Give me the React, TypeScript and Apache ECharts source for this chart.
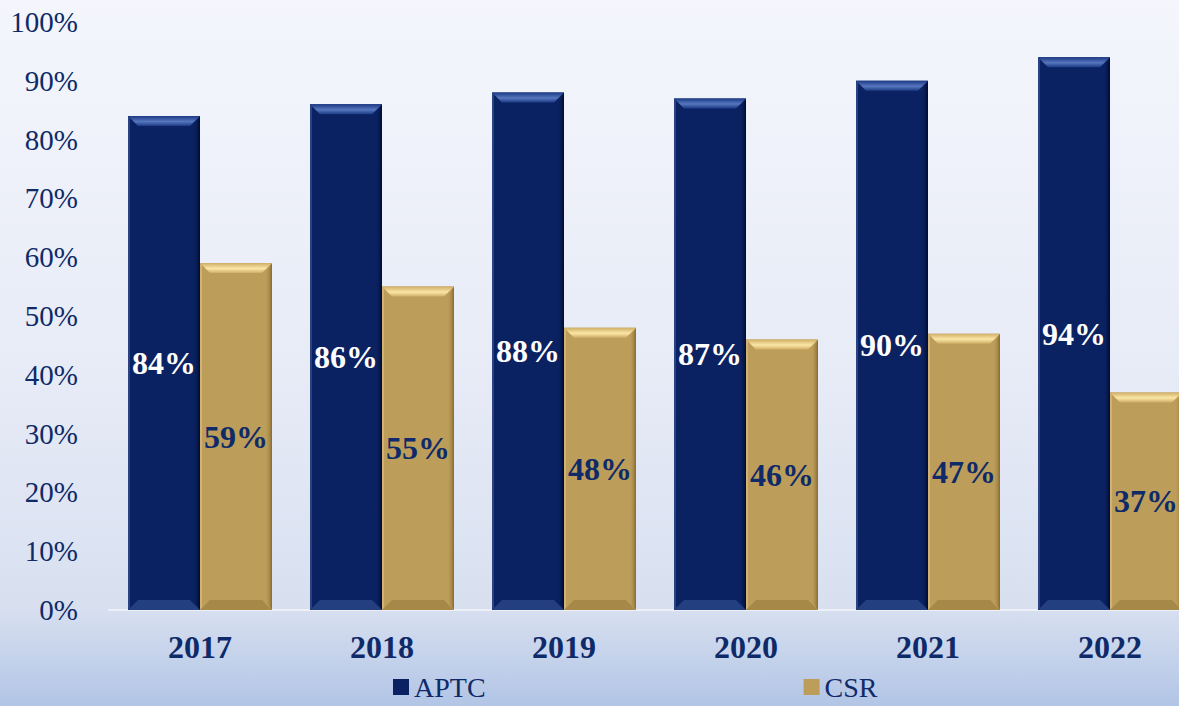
import React, { useEffect, useRef } from "react";
import * as echarts from "echarts";

const categories = ["2017", "2018", "2019", "2020", "2021", "2022"];
const aptcValues = [84, 86, 88, 87, 90, 94];
const csrValues = [59, 55, 48, 46, 47, 37];
const seriesNames = ["APTC", "CSR"];

const NAVY = "#0b2262";
const GOLD = "#bd9d5a";
const TEXT = "#0f2a68";
const FONT = "'Liberation Serif', 'Times New Roman', serif";
const BAR_W = 72;

function bevelRenderer(offset: number, kind: "navy" | "gold") {
  const c =
    kind === "navy"
      ? { topA: "#5676bd", topB: "#1c3a86", bot: "#233f80", right: "#000a2c", left: "#2a4282" }
      : { topA: "#fbe6a6", topB: "#cfae66", bot: "#a68849", right: "#86692f", left: "#cfb274" };
  return (params: any, api: any) => {
    const i = api.value(0);
    const v = api.value(1);
    const top = api.coord([i, v]);
    const base = api.coord([i, 0]);
    const cx = top[0] + offset;
    const x0 = cx - BAR_W / 2;
    const x1 = cx + BAR_W / 2;
    const yT = top[1];
    const yB = base[1];
    const b = 10;
    return {
      type: "group",
      children: [
        {
          type: "polygon",
          shape: { points: [[x1, yT], [x1, yB], [x1 - 7, yB - b], [x1 - 7, yT + b]] },
          style: {
            fill: new echarts.graphic.LinearGradient(1, 0, 0, 0, [
              { offset: 0, color: c.right },
              { offset: 1, color: kind === "navy" ? "rgba(11,34,98,0)" : "rgba(189,157,90,0)" },
            ]),
          },
        },
        {
          type: "polygon",
          shape: { points: [[x0, yT], [x0, yB], [x0 + 2, yB - 2], [x0 + 2, yT + 2]] },
          style: { fill: c.left },
        },
        {
          type: "polygon",
          shape: { points: [[x0, yT], [x1, yT], [x1 - b, yT + b], [x0 + b, yT + b]] },
          style: {
            fill: new echarts.graphic.LinearGradient(0, 0, 0, 1, [
              { offset: 0, color: c.topB },
              { offset: 0.55, color: c.topA },
              { offset: 1, color: c.topB },
            ]),
          },
        },
        {
          type: "polygon",
          shape: { points: [[x0, yB], [x1, yB], [x1 - b, yB - b], [x0 + b, yB - b]] },
          style: { fill: c.bot },
        },
      ],
    };
  };
}

export default function App() {
  const ref = useRef<HTMLDivElement>(null);
  useEffect(() => {
    if (!ref.current) return;
    const chart = echarts.init(ref.current, undefined, { renderer: "svg" });
    chart.setOption({
      animation: false,
      backgroundColor: new echarts.graphic.LinearGradient(0, 0, 0, 1, [
        { offset: 0, color: "#f4f6fc" },
        { offset: 0.5, color: "#e8ecf7" },
        { offset: 0.86, color: "#d8e0f0" },
        { offset: 1, color: "#b2c5e6" },
      ]),
      textStyle: { fontFamily: FONT },
      grid: { left: 109, top: 22, bottom: 96, right: 0, containLabel: false },
      legend: {
        data: [
          { name: seriesNames[0], itemStyle: { color: NAVY } },
          { name: seriesNames[1], itemStyle: { color: GOLD } },
        ],
        left: 388,
        top: 667,
        icon: "rect",
        itemWidth: 16,
        itemHeight: 16,
        itemGap: 318,
        textStyle: { fontFamily: FONT, fontSize: 28, color: TEXT, lineHeight: 30 },
      },
      xAxis: {
        type: "category",
        data: categories,
        axisTick: { show: false },
        axisLine: { show: true, lineStyle: { color: "#eef0f7", width: 2 } },
        axisLabel: { fontFamily: FONT, fontSize: 32, fontWeight: "bold", color: TEXT, margin: 21 },
      },
      yAxis: {
        type: "value",
        min: 0,
        max: 100,
        interval: 10,
        splitLine: { show: false },
        axisLine: { show: false },
        axisTick: { show: false },
        axisLabel: { fontFamily: FONT, fontSize: 29, color: TEXT, margin: 31, formatter: "{value}%" },
      },
      series: [
        {
          name: seriesNames[0],
          type: "bar",
          data: aptcValues,
          barWidth: BAR_W,
          barGap: "0%",
          itemStyle: { color: NAVY },
          label: {
            show: true,
            position: "inside",
            formatter: "{c}%",
            fontFamily: FONT,
            fontSize: 32,
            fontWeight: "bold",
            color: "#ffffff",
          },
          z: 2,
        },
        {
          name: seriesNames[1],
          type: "bar",
          data: csrValues,
          barWidth: BAR_W,
          barGap: "0%",
          itemStyle: { color: GOLD },
          label: {
            show: true,
            position: "inside",
            formatter: "{c}%",
            fontFamily: FONT,
            fontSize: 32,
            fontWeight: "bold",
            color: TEXT,
          },
          z: 2,
        },
        {
          type: "custom",
          silent: true,
          z: 3,
          renderItem: bevelRenderer(-BAR_W / 2, "navy"),
          data: aptcValues.map((v, i) => [i, v]),
          encode: { x: 0, y: 1 },
        },
        {
          type: "custom",
          silent: true,
          z: 3,
          renderItem: bevelRenderer(BAR_W / 2, "gold"),
          data: csrValues.map((v, i) => [i, v]),
          encode: { x: 0, y: 1 },
        },
      ],
    });
    return () => chart.dispose();
  }, []);
  return (
    <div style={{ position: "fixed", left: 0, top: 0, width: 1179, height: 706, overflow: "hidden" }}>
      <div ref={ref} style={{ width: 1201, height: 706 }} />
    </div>
  );
}
